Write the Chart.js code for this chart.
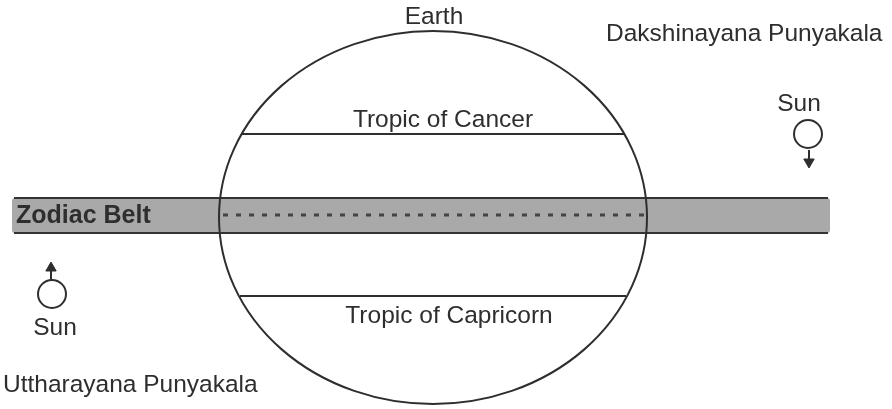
<!DOCTYPE html>
<html>
<head>
<meta charset="utf-8">
<script src="https://cdn.jsdelivr.net/npm/chart.js@4/dist/chart.umd.min.js"></script>
<style>
html,body{margin:0;padding:0;background:#fff;}
#wrap{width:892px;height:409px;}
</style>
</head>
<body>
<div id="wrap"><canvas id="c" width="892" height="409"></canvas></div>
<script>
// ---- diagram data (in a 892 x 409 data space, y grows downward) ----
const textLabels = ["Earth", "Dakshinayana Punyakala", "Tropic of Cancer", "Zodiac Belt", "Tropic of Capricorn", "Sun", "Sun", "Uttharayana Punyakala"];
const textX      = [434, 606, 443, 16, 449, 799, 55, 3];
const textY      = [24, 41, 127, 223, 323, 111, 335, 392];
const textAlign  = ["center", "left", "center", "left", "center", "center", "center", "left"];
const textBold   = [false, false, false, true, false, false, false, false];

const earthCenter = [433, 217.5];
const earthRadii  = [214, 186.5];

const beltX = [12, 830];
const beltY = [198, 233];

const tropicNames  = ["Tropic of Cancer", "Tropic of Capricorn"];
const tropicY      = [134, 296];
const tropicXStart = [242, 240];
const tropicXEnd   = [624, 626];

const eclipticY = 215;
const eclipticX = [223, 645];

const sunX = [808, 52];
const sunY = [134, 294];

const arrowX     = [809, 51];
const arrowStem  = [[150, 160], [280, 270]];
const arrowHeadY = [162, 268];
const arrowDir   = ["down", "up"];

const ink = "#2e2e2e";

const datasets = [];
tropicNames.forEach((n, i) => {
  datasets.push({
    label: n, type: "line",
    data: [{x: tropicXStart[i], y: tropicY[i]}, {x: tropicXEnd[i], y: tropicY[i]}],
    borderColor: ink, borderWidth: 2, pointRadius: 0, fill: false, order: 1
  });
});
datasets.push({
  label: "ecliptic", type: "line",
  data: [{x: eclipticX[0], y: eclipticY}, {x: eclipticX[1], y: eclipticY}],
  borderColor: "#444", borderWidth: 3, borderDash: [5, 8], borderCapStyle: "butt",
  pointRadius: 0, fill: false, order: 1
});
arrowX.forEach((ax, i) => {
  datasets.push({
    label: "stem" + i, type: "line",
    data: [{x: ax, y: arrowStem[i][0]}, {x: ax, y: arrowStem[i][1]}],
    borderColor: ink, borderWidth: 2, pointRadius: 0, fill: false, order: 1
  });
});
datasets.push({
  label: "arrowheads", type: "scatter",
  data: arrowX.map((ax, i) => ({x: ax, y: arrowHeadY[i]})),
  pointStyle: "triangle",
  rotation: arrowDir.map(d => d === "down" ? 180 : 0),
  pointRadius: 6, backgroundColor: ink, borderColor: ink, borderWidth: 1, order: 0
});
datasets.push({
  label: "suns", type: "scatter",
  data: sunX.map((sx, i) => ({x: sx, y: sunY[i]})),
  pointStyle: "circle", pointRadius: 14, backgroundColor: "#fff",
  borderColor: ink, borderWidth: 2, order: 0
});

const diagramPlugin = {
  id: "diagram",
  beforeDatasetsDraw(chart) {
    const {ctx, scales: {x, y}} = chart;
    const x0 = x.getPixelForValue(beltX[0]), x1 = x.getPixelForValue(beltX[1]);
    const y0 = y.getPixelForValue(beltY[0]), y1 = y.getPixelForValue(beltY[1]);
    ctx.save();
    ctx.fillStyle = "#a9a9a9";
    ctx.beginPath();
    if (ctx.roundRect) ctx.roundRect(x0, y0, x1 - x0, y1 - y0, 3); else ctx.rect(x0, y0, x1 - x0, y1 - y0);
    ctx.fill();
    ctx.strokeStyle = "#333";
    ctx.lineWidth = 2;
    ctx.beginPath();
    ctx.moveTo(x0 + 2, y0); ctx.lineTo(x1 - 2, y0);
    ctx.moveTo(x0 + 2, y1); ctx.lineTo(x1 - 2, y1);
    ctx.stroke();
    ctx.restore();
  },
  afterDatasetsDraw(chart) {
    const {ctx, scales: {x, y}} = chart;
    ctx.save();
    const cx = x.getPixelForValue(earthCenter[0]);
    const cy = y.getPixelForValue(earthCenter[1]);
    const rx = Math.abs(x.getPixelForValue(earthCenter[0] + earthRadii[0]) - cx);
    const ry = Math.abs(y.getPixelForValue(earthCenter[1] + earthRadii[1]) - cy);
    ctx.strokeStyle = ink;
    ctx.lineWidth = 2;
    ctx.beginPath();
    ctx.ellipse(cx, cy, rx, ry, 0, 0, Math.PI * 2);
    ctx.stroke();

    ctx.fillStyle = ink;
    ctx.textBaseline = "alphabetic";
    textLabels.forEach((t, i) => {
      ctx.font = (textBold[i] ? "bold 25px " : "24.5px ") + "'Liberation Sans', Arial, sans-serif";
      ctx.textAlign = textAlign[i];
      ctx.fillText(t, x.getPixelForValue(textX[i]), y.getPixelForValue(textY[i]));
    });
    ctx.restore();
  }
};

new Chart(document.getElementById("c"), {
  type: "scatter",
  data: {datasets},
  options: {
    responsive: false,
    animation: false,
    devicePixelRatio: 1,
    layout: {padding: 0, autoPadding: false},
    plugins: {legend: {display: false}, tooltip: {enabled: false}},
    scales: {
      x: {type: "linear", min: 0, max: 892, display: false},
      y: {type: "linear", min: 0, max: 409, reverse: true, display: false}
    }
  },
  plugins: [diagramPlugin]
});
</script>
</body>
</html>
